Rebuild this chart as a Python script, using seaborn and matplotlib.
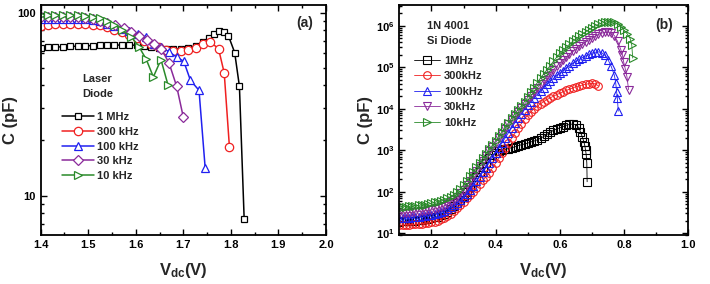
import numpy as np
import matplotlib
matplotlib.use("Agg")
import matplotlib.pyplot as plt
import seaborn as sns
from matplotlib.ticker import FuncFormatter, NullFormatter, MultipleLocator, LogLocator

# ---------------- (a) Laser diode: C (pF) vs Vdc (V) ----------------
ld_1mhz_v = [1.400, 1.416, 1.431, 1.447, 1.462, 1.478, 1.493, 1.509, 1.524, 1.540,
             1.555, 1.571, 1.586, 1.602, 1.617, 1.633, 1.648, 1.664, 1.679, 1.695,
             1.710, 1.726, 1.741, 1.755, 1.765, 1.775, 1.785, 1.795, 1.808, 1.818, 1.828]
ld_1mhz_c = [64.3, 64.5, 64.8, 65.0, 65.3, 65.5, 65.8, 66.0, 66.2, 66.3,
             66.4, 66.5, 66.5, 66.3, 65.5, 64.8, 64.0, 63.3, 63.0, 63.3,
             64.0, 66.0, 69.0, 73.0, 76.5, 79.0, 78.5, 74.5, 60.5, 39.5, 7.4]

ld_300k_v = [1.400, 1.416, 1.431, 1.447, 1.462, 1.478, 1.493, 1.509, 1.524, 1.540,
             1.555, 1.571, 1.586, 1.602, 1.617, 1.633, 1.648, 1.664, 1.679, 1.695,
             1.710, 1.726, 1.741, 1.757, 1.774, 1.786, 1.797]
ld_300k_c = [84.2, 85.5, 86.3, 86.5, 86.5, 86.5, 86.3, 86.0, 85.0, 83.0,
             80.5, 78.0, 75.5, 72.5, 69.5, 67.0, 64.5, 62.5, 61.5, 61.8,
             62.3, 64.0, 67.0, 69.0, 63.5, 46.8, 18.4]

ld_100k_v = [1.400, 1.416, 1.431, 1.447, 1.462, 1.478, 1.493, 1.509, 1.524, 1.540,
             1.555, 1.571, 1.586, 1.605, 1.621, 1.638, 1.654, 1.670, 1.686, 1.701,
             1.715, 1.733, 1.746]
ld_100k_c = [92.0, 92.5, 92.7, 92.7, 92.7, 92.5, 92.3, 91.5, 89.5, 87.0,
             84.0, 81.0, 79.0, 76.7, 73.6, 67.7, 64.9, 60.9, 57.2, 54.1,
             42.6, 37.6, 14.1]

ld_30k_v = [1.400, 1.416, 1.431, 1.447, 1.462, 1.478, 1.493, 1.509, 1.524, 1.540,
            1.557, 1.575, 1.591, 1.607, 1.623, 1.638, 1.654, 1.670, 1.686, 1.700]
ld_30k_c = [94.5, 95.0, 95.0, 95.0, 94.5, 94.0, 93.0, 92.0, 90.0, 88.0,
            85.5, 82.8, 78.4, 74.2, 70.6, 67.7, 63.0, 53.0, 39.5, 26.8]

ld_10k_v = [1.400, 1.416, 1.431, 1.447, 1.462, 1.478, 1.493, 1.509, 1.524, 1.540,
            1.555, 1.571, 1.591, 1.607, 1.622, 1.637, 1.653, 1.668]
ld_10k_c = [96.5, 97.0, 97.0, 97.0, 97.0, 96.5, 96.0, 95.0, 93.0, 90.0,
            86.0, 80.0, 73.6, 64.9, 55.5, 44.5, 55.3, 40.0]

# ---------------- (b) 1N 4001 Si diode: log10 C (pF) vs Vdc (V) ----------------
si_v = [0.10, 0.11, 0.12, 0.13, 0.14, 0.15, 0.16, 0.17, 0.18, 0.19,
        0.20, 0.21, 0.22, 0.23, 0.24, 0.25, 0.26, 0.27, 0.28, 0.29,
        0.30, 0.31, 0.32, 0.33, 0.34, 0.35, 0.36, 0.37, 0.38, 0.39,
        0.40, 0.41, 0.42, 0.43, 0.44, 0.45, 0.46, 0.47, 0.48, 0.49,
        0.50, 0.51, 0.52, 0.53, 0.54, 0.55, 0.56, 0.57, 0.58, 0.59,
        0.60, 0.61, 0.62, 0.63, 0.64, 0.65, 0.66, 0.67, 0.68, 0.69,
        0.70, 0.71, 0.72, 0.73, 0.74, 0.75, 0.76, 0.77, 0.78, 0.79, 0.80]

si_1mhz_log = [1.28, 1.285, 1.29, 1.295, 1.30, 1.305, 1.31, 1.32, 1.33, 1.345,
               1.36, 1.38, 1.40, 1.43, 1.47, 1.52, 1.58, 1.65, 1.73, 1.81,
               1.90, 2.00, 2.11, 2.23, 2.35, 2.47, 2.59, 2.70, 2.80, 2.88,
               2.94, 2.98, 3.00, 3.02, 3.04, 3.06, 3.08, 3.11, 3.13, 3.15,
               3.17, 3.20, 3.22, 3.25, 3.29, 3.33, 3.38, 3.43, 3.48, 3.51,
               3.54, 3.57, 3.60, 3.62, 3.63, 3.61, 3.54]
si_1mhz_tail_v = [0.664, 0.670, 0.675, 0.678, 0.680, 0.682, 0.684, 0.685]
si_1mhz_tail_log = [3.44, 3.32, 3.20, 3.10, 3.00, 2.90, 2.69, 2.24]

si_300k_log = [1.19, 1.195, 1.20, 1.205, 1.21, 1.215, 1.22, 1.23, 1.24, 1.25,
               1.26, 1.28, 1.30, 1.33, 1.37, 1.42, 1.47, 1.53, 1.60, 1.68,
               1.76, 1.84, 1.92, 2.00, 2.09, 2.18, 2.27, 2.36, 2.45, 2.57,
               2.69, 2.81, 2.93, 3.05, 3.17, 3.29, 3.41, 3.53, 3.64, 3.75,
               3.85, 3.93, 4.00, 4.06, 4.12, 4.17, 4.22, 4.26, 4.30, 4.34,
               4.37, 4.41, 4.44, 4.47, 4.50, 4.53, 4.55, 4.57, 4.59, 4.60,
               4.61, 4.60, 4.55]
si_300k_tail_v = []
si_300k_tail_log = []

si_100k_log = [1.36, 1.365, 1.37, 1.375, 1.38, 1.39, 1.40, 1.41, 1.42, 1.43,
               1.44, 1.46, 1.48, 1.51, 1.54, 1.58, 1.62, 1.67, 1.73, 1.80,
               1.87, 1.95, 2.04, 2.14, 2.25, 2.36, 2.47, 2.58, 2.70, 2.82,
               2.94, 3.06, 3.18, 3.30, 3.42, 3.54, 3.66, 3.77, 3.88, 3.98,
               4.08, 4.17, 4.26, 4.35, 4.43, 4.51, 4.59, 4.66, 4.73, 4.80,
               4.86, 4.92, 4.98, 5.04, 5.09, 5.14, 5.19, 5.23, 5.27, 5.31,
               5.34, 5.36, 5.37, 5.35, 5.29, 5.18, 5.02, 4.80]
si_100k_tail_v = [0.774, 0.777, 0.779, 0.782]
si_100k_tail_log = [4.62, 4.40, 4.26, 3.94]

si_30k_log = [1.48, 1.485, 1.49, 1.495, 1.50, 1.51, 1.52, 1.53, 1.54, 1.55,
              1.56, 1.58, 1.60, 1.63, 1.66, 1.70, 1.75, 1.81, 1.88, 1.96,
              2.05, 2.15, 2.26, 2.37, 2.49, 2.61, 2.73, 2.85, 2.97, 3.08,
              3.18, 3.29, 3.40, 3.51, 3.62, 3.72, 3.82, 3.92, 4.02, 4.11,
              4.20, 4.30, 4.40, 4.50, 4.60, 4.69, 4.78, 4.86, 4.94, 5.02,
              5.10, 5.17, 5.24, 5.31, 5.38, 5.44, 5.50, 5.56, 5.61, 5.66,
              5.71, 5.75, 5.79, 5.82, 5.84, 5.85, 5.83, 5.76, 5.62, 5.42]
si_30k_tail_v = [0.795, 0.799, 0.804, 0.809, 0.814]
si_30k_tail_log = [5.29, 5.12, 4.95, 4.77, 4.46]

si_10k_log = [1.63, 1.635, 1.64, 1.645, 1.65, 1.66, 1.67, 1.68, 1.69, 1.70,
              1.72, 1.74, 1.76, 1.78, 1.81, 1.84, 1.88, 1.93, 1.99, 2.07,
              2.16, 2.26, 2.37, 2.48, 2.59, 2.70, 2.81, 2.92, 3.02, 3.12,
              3.22, 3.33, 3.44, 3.55, 3.66, 3.77, 3.88, 3.98, 4.07, 4.17,
              4.27, 4.39, 4.51, 4.63, 4.74, 4.84, 4.94, 5.04, 5.14, 5.24,
              5.33, 5.41, 5.48, 5.55, 5.62, 5.68, 5.74, 5.80, 5.85, 5.90,
              5.95, 5.99, 6.03, 6.06, 6.08, 6.10, 6.10, 6.08, 6.04, 5.97, 5.89]
si_10k_tail_v = [0.810, 0.819, 0.824, 0.827]
si_10k_tail_log = [5.80, 5.69, 5.53, 5.22]

colors = ["#000000", "#f02020", "#2020f0", "#8a2a9a", "#2a8a2a"]

sns.set_style("ticks")
plt.rcParams["font.family"] = ["Liberation Sans", "DejaVu Sans"]
plt.rcParams["font.weight"] = "bold"
plt.rcParams["axes.labelweight"] = "bold"
plt.rcParams["mathtext.fontset"] = "custom"
plt.rcParams["mathtext.rm"] = "Liberation Sans:bold"
plt.rcParams["mathtext.bf"] = "Liberation Sans:bold"
plt.rcParams["mathtext.it"] = "Liberation Sans:bold:italic"

fig = plt.figure(figsize=(7.1, 2.84), dpi=100)
ax1 = fig.add_axes([0.0573, 0.1708, 0.4018, 0.8116])
ax2 = fig.add_axes([0.5624, 0.1708, 0.4070, 0.8116])


def style_axes(ax):
    for sp in ax.spines.values():
        sp.set_linewidth(1.3)
        sp.set_color("black")
    ax.tick_params(which="both", direction="in", top=True, right=True,
                   labelsize=8, width=1.0, colors="black")
    ax.tick_params(which="major", length=4)
    ax.tick_params(which="minor", length=2.2)


# panel (a)
ld_series = [
    (ld_1mhz_v, ld_1mhz_c, "1 MHz", "s", 5),
    (ld_300k_v, ld_300k_c, "300 kHz", "o", 6),
    (ld_100k_v, ld_100k_c, "100 kHz", "^", 6),
    (ld_30k_v, ld_30k_c, "30 kHz", "D", 5),
    (ld_10k_v, ld_10k_c, "10 kHz", ">", 6),
]
for (v, c, lab, mk, ms), col in zip(ld_series, colors):
    sns.lineplot(x=v, y=c, ax=ax1, color=col, lw=1.1, marker=mk, ms=ms,
                 markerfacecolor="white", markeredgecolor=col, markeredgewidth=0.9,
                 estimator=None, sort=False, label=lab)

ax1.set_yscale("log")
ax1.set_xlim(1.4, 2.0)
ax1.set_ylim(6.05, 110)
ax1.xaxis.set_major_locator(MultipleLocator(0.1))
ax1.xaxis.set_minor_locator(MultipleLocator(0.05))
ax1.xaxis.set_major_formatter(FuncFormatter(lambda v, p: f"{v:.1f}"))
ax1.yaxis.set_major_formatter(FuncFormatter(lambda v, p: f"{v:g}"))
ax1.yaxis.set_minor_formatter(NullFormatter())
style_axes(ax1)
ax1.set_xlabel(r"$\mathbf{V_{dc}}$(V)", fontsize=12)
ax1.set_ylabel("C (pF)", fontsize=12)
ax1.xaxis.set_label_coords(0.5, -0.11)
ax1.yaxis.set_label_coords(-0.08, 0.5)
ax1.legend(frameon=False, loc="upper left", bbox_to_anchor=(0.075, 0.535),
           fontsize=8, handlelength=2.9, handletextpad=0.25, labelspacing=0.42,
           borderpad=0, borderaxespad=0)
ax1.text(0.145, 0.70, "Laser\nDiode", transform=ax1.transAxes, fontsize=8,
         fontweight="bold", va="top", ha="left", linespacing=1.55)
ax1.text(0.925, 0.92, "(a)", transform=ax1.transAxes, fontsize=10,
         fontweight="bold", va="center", ha="center")

# panel (b)
si_series = [
    (si_1mhz_log, si_1mhz_tail_v, si_1mhz_tail_log, "1MHz", "s"),
    (si_300k_log, si_300k_tail_v, si_300k_tail_log, "300kHz", "o"),
    (si_100k_log, si_100k_tail_v, si_100k_tail_log, "100kHz", "^"),
    (si_30k_log, si_30k_tail_v, si_30k_tail_log, "30kHz", "v"),
    (si_10k_log, si_10k_tail_v, si_10k_tail_log, "10kHz", ">"),
]
for (lg, tv, tl, lab, mk), col in zip(si_series, colors):
    v = list(si_v[:len(lg)]) + list(tv)
    c = np.power(10.0, np.array(list(lg) + list(tl)))
    sns.lineplot(x=v, y=c, ax=ax2, color=col, lw=0.6, marker=mk, ms=5.5,
                 markerfacecolor="none", markeredgecolor=col, markeredgewidth=0.8,
                 estimator=None, sort=False, label=lab)

ax2.set_yscale("log")
ax2.set_xlim(0.1, 1.0)
ax2.set_ylim(8.8, 3.15e6)
ax2.xaxis.set_major_locator(MultipleLocator(0.2))
ax2.xaxis.set_minor_locator(MultipleLocator(0.1))
ax2.xaxis.set_major_formatter(FuncFormatter(lambda v, p: f"{v:.1f}"))
ax2.yaxis.set_major_locator(LogLocator(base=10, numticks=10))
ax2.yaxis.set_minor_locator(LogLocator(base=10, subs=np.arange(2, 10), numticks=10))
ax2.yaxis.set_major_formatter(FuncFormatter(
    lambda v, p: r"$\mathbf{10^{%d}}$" % int(round(np.log10(v)))))
ax2.yaxis.set_minor_formatter(NullFormatter())
style_axes(ax2)
ax2.set_xlabel(r"$\mathbf{V_{dc}}$(V)", fontsize=12)
ax2.set_ylabel("C (pF)", fontsize=12)
ax2.xaxis.set_label_coords(0.5, -0.11)
ax2.yaxis.set_label_coords(-0.09, 0.5)
ax2.legend(frameon=False, loc="upper left", bbox_to_anchor=(0.05, 0.78),
           fontsize=8, handlelength=2.4, handletextpad=0.3, labelspacing=0.5,
           borderpad=0, borderaxespad=0)
ax2.text(0.095, 0.93, "1N 4001\nSi Diode", transform=ax2.transAxes, fontsize=8,
         fontweight="bold", va="top", ha="left", linespacing=1.55)
ax2.text(0.918, 0.915, "(b)", transform=ax2.transAxes, fontsize=10,
         fontweight="bold", va="center", ha="center")

fig.savefig("out.png", dpi=100)
